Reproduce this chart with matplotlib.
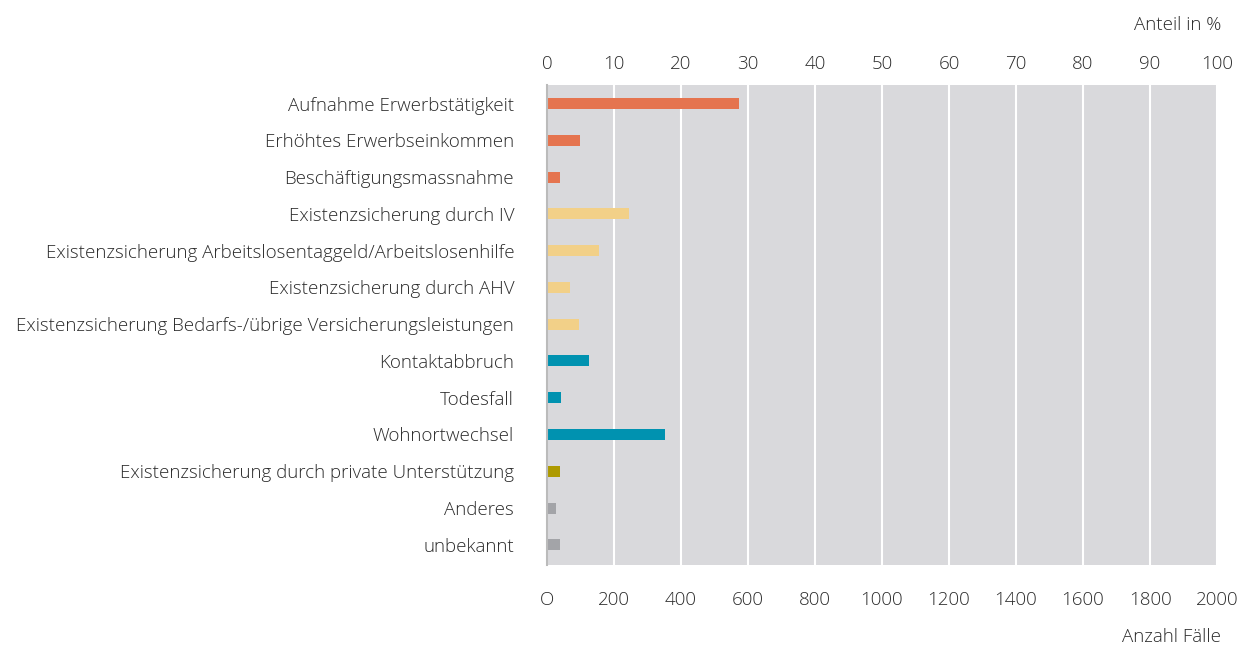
import numpy as np
import matplotlib.pyplot as plt

plt.rcParams['font.family'] = ['Open Sans', 'DejaVu Sans']

kategorien = [
    "Aufnahme Erwerbstätigkeit",
    "Erhöhtes Erwerbseinkommen",
    "Beschäftigungsmassnahme",
    "Existenzsicherung durch IV",
    "Existenzsicherung Arbeitslosentaggeld/Arbeitslosenhilfe",
    "Existenzsicherung durch AHV",
    "Existenzsicherung Bedarfs-/übrige Versicherungsleistungen",
    "Kontaktabbruch",
    "Todesfall",
    "Wohnortwechsel",
    "Existenzsicherung durch private Unterstützung",
    "Anderes",
    "unbekannt",
]
faelle = [573, 98, 39, 245, 157, 68, 96, 125, 42, 352, 39, 27, 39]
gruppe = ["erwerb", "erwerb", "erwerb", "vers", "vers", "vers", "vers",
          "kontakt", "kontakt", "kontakt", "privat", "rest", "rest"]
farben = {"erwerb": "#E5744F", "vers": "#F2D088", "kontakt": "#0092B0",
          "privat": "#AE9A00", "rest": "#A3A4A8"}

x_ticks = [0, 200, 400, 600, 800, 1000, 1200, 1400, 1600, 1800, 2000]
x_labels = ["O"] + [str(t) for t in x_ticks[1:]]
prozent_ticks = [0, 10, 20, 30, 40, 50, 60, 70, 80, 90, 100]

textfarbe = "#2B2B2B"
fs = 13.5

fig = plt.figure(figsize=(12.4, 6.45), dpi=100)
ax = fig.add_axes([0.441, 0.124, 0.5405, 0.744])
ax.set_facecolor("#D9D9DC")

y = np.arange(len(kategorien))
ax.barh(y, faelle, height=0.3, color=[farben[g] for g in gruppe], zorder=3)

ax.set_xlim(0, 2000)
ax.set_ylim(len(kategorien) - 0.45, -0.5)
ax.set_yticks(y)
ax.set_yticklabels(kategorien, fontsize=fs, color=textfarbe, fontweight="light")
ax.set_xticks(x_ticks)
ax.set_xticklabels(x_labels, fontsize=fs, color=textfarbe, fontweight="light")
ax.tick_params(axis="y", length=0, pad=23.5)
ax.tick_params(axis="x", length=0, pad=18.5)
ax.grid(axis="x", color="white", linewidth=1.5, zorder=1)
for s in ["top", "right", "bottom"]:
    ax.spines[s].set_visible(False)
ax.spines["left"].set_color("#BBBBBB")
ax.spines["left"].set_linewidth(1.5)
ax.spines["left"].set_zorder(4)

oben = ax.secondary_xaxis("top", functions=(lambda v: v / 20, lambda p: p * 20))
oben.set_xticks(prozent_ticks)
oben.set_xticklabels([str(p) for p in prozent_ticks], fontsize=fs,
                     color=textfarbe, fontweight="light")
oben.tick_params(length=0, pad=8.5)
oben.spines["top"].set_visible(False)

fig.text(0.985, 0.961, "Anteil in %", ha="right", va="center", fontsize=fs,
         color=textfarbe, fontweight="light")
fig.text(0.985, 0.013, "Anzahl Fälle", ha="right", va="center", fontsize=fs,
         color=textfarbe, fontweight="light")

fig.savefig("out.png", dpi=100)
